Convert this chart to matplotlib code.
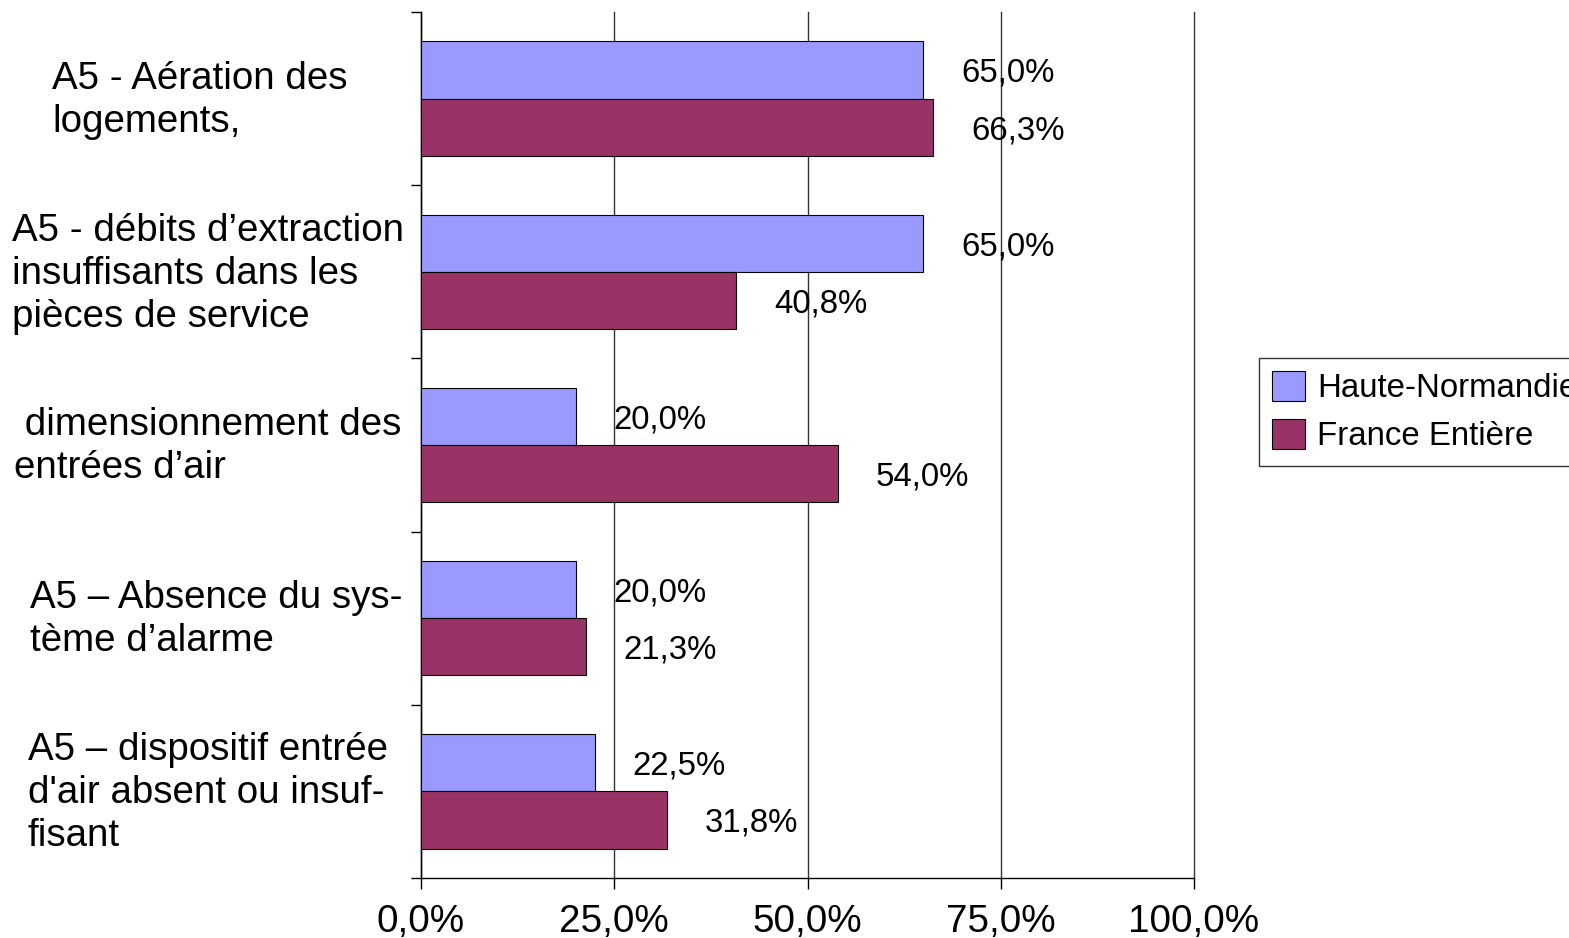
import numpy as np
import matplotlib
matplotlib.use("Agg")
import matplotlib.pyplot as plt
from matplotlib.ticker import FuncFormatter
import matplotlib.transforms as mtransforms

plt.rcParams['font.family'] = ['Liberation Sans', 'DejaVu Sans']

# data
categories = [
    "A5 - Aération des\nlogements,",
    "A5 - débits d’extraction\ninsuffisants dans les\npièces de service",
    " dimensionnement des\nentrées d’air",
    "A5 – Absence du sys-\ntème d’alarme",
    "A5 – dispositif entrée\nd'air absent ou insuf-\nfisant",
]
haute_normandie = [65.0, 65.0, 20.0, 20.0, 22.5]
france_entiere = [66.3, 40.8, 54.0, 21.3, 31.8]
series_names = ["Haute-Normandie", "France Entière"]
xticks = [0, 25, 50, 75, 100]

# left edge (pixels) of each category label block
label_left_px = [52, 12, 14, 30, 28]

fig = plt.figure(figsize=(15.69, 9.38), dpi=100)
ax = fig.add_axes([421/1569, 60/938, (1194-421)/1569, (878-12)/938])

y = np.arange(len(categories))
h = 0.33
b1 = ax.barh(y - h/2, haute_normandie, height=h, color='#9999FF', edgecolor='black', linewidth=0.8, label=series_names[0], zorder=3)
b2 = ax.barh(y + h/2, france_entiere, height=h, color='#993366', edgecolor='black', linewidth=0.8, label=series_names[1], zorder=3)

ax.set_ylim(len(categories) - 0.5, -0.5)
ax.set_xlim(0, 100)

# value labels
for bars, vals in [(b1, haute_normandie), (b2, france_entiere)]:
    for rect, v in zip(bars, vals):
        ax.annotate(f"{v:.1f}%".replace('.', ','),
                    xy=(v, rect.get_y() + rect.get_height()/2),
                    xytext=(27, -2.5), textcoords='offset points',
                    ha='left', va='center', fontsize=23.8, zorder=4)

# category labels, left aligned blocks in the left margin
trans = mtransforms.blended_transform_factory(fig.transFigure, ax.transData)
for yi, lab, lx in zip(y, categories, label_left_px):
    ax.text(lx/1569, yi + 0.01, lab, transform=trans, ha='left', va='center',
            multialignment='left', fontsize=27.7, linespacing=1.25)

# ticks / grid
ax.set_xticks(xticks)
ax.xaxis.set_major_formatter(FuncFormatter(lambda v, p: f"{v:.1f}%".replace('.', ',')))
ax.tick_params(axis='x', labelsize=27.8, length=8, width=1, direction='out', pad=11)
ax.set_yticks(np.arange(len(categories) + 1) - 0.5)
ax.set_yticklabels([])
ax.tick_params(axis='y', length=7, width=1, direction='out')
ax.grid(axis='x', color='#333333', linewidth=1, zorder=0)
for gl in ax.get_xgridlines():
    gl.set_clip_on(False)

for s in ['top', 'right']:
    ax.spines[s].set_visible(False)
for s in ['left', 'bottom']:
    ax.spines[s].set_linewidth(1)

leg = fig.legend(handles=[b1, b2], loc='upper left', bbox_to_anchor=(1259/1569, 1 - 358/938),
                 borderaxespad=0, fontsize=23.8, frameon=True, fancybox=False,
                 edgecolor='black', handlelength=1.0, handleheight=1.0,
                 handletextpad=0.35, labelspacing=0.45, borderpad=0.4)
leg.get_frame().set_linewidth(1)

fig.savefig("out.png", dpi=100)
